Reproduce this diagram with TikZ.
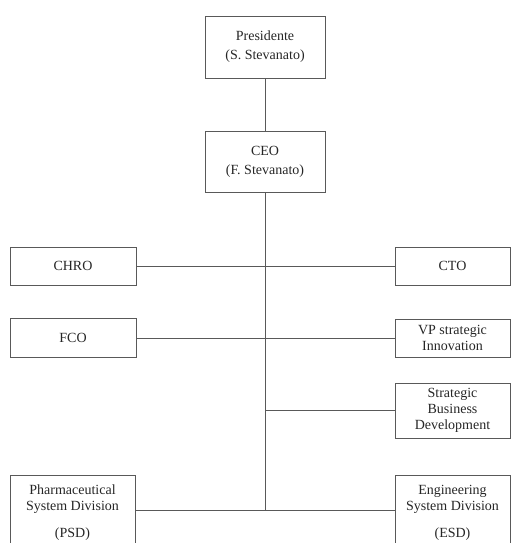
\documentclass[tikz,border=0pt]{standalone}
\usepackage{fontspec}
\setmainfont{Liberation Serif}
\begin{document}
\begin{tikzpicture}[x=1pt,y=-1pt,
  box/.style={draw=black!65, line width=0.9pt, align=center, inner sep=0pt,
    font=\fontsize{14}{16}\selectfont, text=black!85},
  conn/.style={draw=black!65, line width=0.9pt}]
\useasboundingbox (0,0) rectangle (511,543);
\clip (0,0) rectangle (511,543);
\node[box, minimum width=120, minimum height=62, font=\fontsize{14}{19}\selectfont] (pres) at (265,47) {Presidente\\(S. Stevanato)};
\node[box, minimum width=120, minimum height=61, font=\fontsize{14}{19}\selectfont] (ceo) at (265,161.5) {CEO\\(F. Stevanato)};
\node[box, minimum width=126, minimum height=38] (chro) at (73,266) {CHRO};
\node[box, minimum width=126, minimum height=39] (fco) at (73,338) {FCO};
\node[box, minimum width=115, minimum height=38] (cto) at (452.5,266) {CTO};
\node[box, minimum width=115, minimum height=38] (vp) at (452.5,338) {VP strategic\\Innovation};
\node[box, minimum width=115, minimum height=55] (sbd) at (452.5,410.5) {Strategic\\Business\\Development};
\node[box, minimum width=125, minimum height=76] (psd) at (72.5,513) {Pharmaceutical\\System Division\\[11pt](PSD)};
\node[box, minimum width=115, minimum height=76] (esd) at (452.5,513) {Engineering\\System Division\\[11pt](ESD)};
\coordinate (j) at (265,510.5);
\coordinate (js) at (265,410.5);
\draw[conn] (pres) -- (ceo);
\draw[conn] (ceo) -- (j);
\draw[conn] (chro) -- (cto);
\draw[conn] (fco) -- (vp);
\draw[conn] (js) -- (sbd);
\draw[conn] (psd.east |- j) -- (esd.west |- j);
\end{tikzpicture}
\end{document}
